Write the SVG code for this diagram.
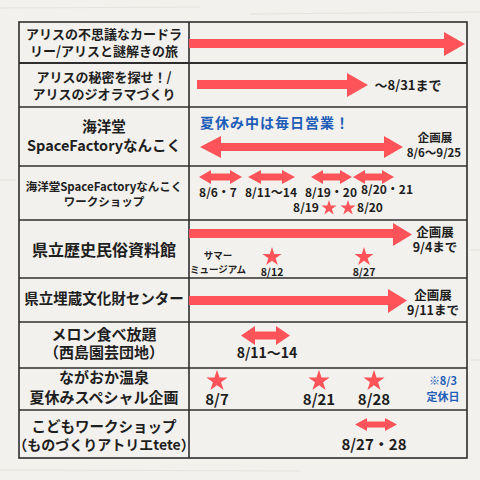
<svg xmlns="http://www.w3.org/2000/svg" xmlns:xlink="http://www.w3.org/1999/xlink" width="480" height="480" viewBox="0 0 480 480">
<style>
.t{font-family:"Noto Sans CJK JP","Noto Sans",sans-serif;font-weight:700;fill:#1e1e1e;text-anchor:middle}
.b{fill:#1e5db8}
.a{fill:#fe5459}
.g{stroke:#2e2e2e;stroke-width:1.6;fill:none}
</style>
<defs>
<path id="star" d="M0,-10 L2.245,-3.09 L9.511,-3.09 L3.633,1.18 L5.878,8.09 L0,3.82 L-5.878,8.09 L-3.633,1.18 L-9.511,-3.09 L-2.245,-3.09 Z" fill="#fe5459"/>
</defs>
<rect width="480" height="480" fill="#f3f1ed"/>
<g opacity="0.5" stroke="#dcd8d2" stroke-width="1">
<line x1="0" y1="8" x2="200" y2="7"/><line x1="250" y1="14" x2="480" y2="12"/>
<line x1="0" y1="470" x2="300" y2="471"/><line x1="0" y1="180" x2="16" y2="180"/>
<line x1="470" y1="250" x2="480" y2="250"/><line x1="470" y1="360" x2="480" y2="360"/>
</g>
<g id="grid" class="g">
<rect x="19" y="22" width="448" height="436"/>
<line x1="189" y1="22" x2="189" y2="458"/>
<line x1="19" y1="63" x2="467" y2="63" stroke-width="2.2"/>
<line x1="19" y1="107" x2="467" y2="107"/>
<line x1="19" y1="166" x2="467" y2="166"/>
<line x1="19" y1="220" x2="467" y2="220"/>
<line x1="19" y1="278" x2="467" y2="278"/>
<line x1="19" y1="322" x2="467" y2="322"/>
<line x1="19" y1="368" x2="467" y2="368"/>
<line x1="19" y1="410" x2="467" y2="410"/>
</g>
<g id="row1">
<text class="t" x="104" y="39" font-size="13">アリスの不思議なカードラ</text>
<text class="t" x="104" y="56" font-size="13">リー/アリスと謎解きの旅</text>
</g>
<g id="row2">
<text class="t" x="104" y="82" font-size="13">アリスの秘密を探せ！/</text>
<text class="t" x="104" y="99" font-size="13">アリスのジオラマづくり</text>
<text class="t" x="408" y="90" font-size="13">〜8/31まで</text>
</g>
<g id="row3">
<text class="t" x="104" y="132" font-size="14.5">海洋堂</text>
<text class="t" x="104" y="151" font-size="14.5">SpaceFactoryなんこく</text>
<text class="t b" x="275" y="128" font-size="14" letter-spacing="1">夏休み中は毎日営業！</text>
<text class="t" x="435" y="142" font-size="11.5">企画展</text>
<text class="t" x="434" y="157" font-size="11.5">8/6〜9/25</text>
</g>
<g id="row4">
<text class="t" x="104" y="191" font-size="11.5">海洋堂SpaceFactoryなんこく</text>
<text class="t" x="104" y="206" font-size="11.5">ワークショップ</text>
<text class="t" x="218" y="197" font-size="12">8/6・7</text>
<text class="t" x="271" y="197" font-size="12">8/11〜14</text>
<text class="t" x="331" y="197" font-size="12">8/19・20</text>
<text class="t" x="387" y="194" font-size="12">8/20・21</text>
<text class="t" x="306" y="212" font-size="12">8/19</text>
<text class="t" x="370" y="212" font-size="12">8/20</text>
<use xlink:href="#star" transform="translate(329,208) scale(0.8)"/>
<use xlink:href="#star" transform="translate(348,208) scale(0.8)"/>
</g>
<g id="row5">
<text class="t" x="104" y="256" font-size="16">県立歴史民俗資料館</text>
<text class="t" x="218" y="259" font-size="9.5">サマー</text>
<text class="t" x="218" y="273" font-size="9.5">ミュージアム</text>
<use xlink:href="#star" transform="translate(272,257)"/>
<use xlink:href="#star" transform="translate(364,257)"/>
<text class="t" x="272" y="276" font-size="10.5">8/12</text>
<text class="t" x="364" y="276" font-size="10.5">8/27</text>
<text class="t" x="435" y="237" font-size="12.5">企画展</text>
<text class="t" x="435" y="252" font-size="12.5">9/4まで</text>
</g>
<g id="row6">
<text class="t" x="104" y="304" font-size="14.5">県立埋蔵文化財センター</text>
<text class="t" x="433" y="300" font-size="12.5">企画展</text>
<text class="t" x="433" y="315" font-size="12.5">9/11まで</text>
</g>
<g id="row7">
<text class="t" x="104" y="340" font-size="15">メロン食べ放題</text>
<text class="t" x="104" y="358" font-size="15">（西島園芸団地）</text>
<text class="t" x="267" y="358" font-size="14">8/11〜14</text>
</g>
<g id="row8">
<text class="t" x="104" y="383" font-size="15">ながおか温泉</text>
<text class="t" x="104" y="403" font-size="15">夏休みスペシャル企画</text>
<use xlink:href="#star" transform="translate(217,381) scale(1.12)"/>
<use xlink:href="#star" transform="translate(319,381) scale(1.12)"/>
<use xlink:href="#star" transform="translate(374,381) scale(1.12)"/>
<text class="t" x="217" y="405" font-size="15">8/7</text>
<text class="t" x="319" y="405" font-size="15">8/21</text>
<text class="t" x="374" y="405" font-size="15">8/28</text>
<text class="t b" x="443" y="385" font-size="11">※8/3</text>
<text class="t b" x="443" y="401" font-size="11">定休日</text>
</g>
<g id="row9">
<text class="t" x="104" y="432" font-size="14.5">こどもワークショップ</text>
<text class="t" x="104" y="450" font-size="14">（ものづくりアトリエtete）</text>
<text class="t" x="374" y="450" font-size="15">8/27・28</text>
</g>
<g id="connectors" class="a">
<polygon points="189,39 444,39 444,32 465,44 444,56 444,48 189,48"/>
<polygon points="197,80 347,80 347,73 368,85 347,97 347,89 197,89"/>
<polygon points="200,147 221,136 221,143 384,143 384,136 403,147 384,158 384,151 221,151 221,158"/>
<polygon points="199,177 211,170 211,173.5 230,173.5 230,170 242,177 230,184 230,180.5 211,180.5 211,184"/>
<polygon points="248,177 261,170 261,173.5 282,173.5 282,170 295,177 282,184 282,180.5 261,180.5 261,184"/>
<polygon points="311,177 323,170 323,173.5 340,173.5 340,170 352,177 340,184 340,180.5 323,180.5 323,184"/>
<polygon points="353,177 365,170 365,173.5 382,173.5 382,170 394,177 382,184 382,180.5 365,180.5 365,184"/>
<polygon points="189,229 393,229 393,223 412,234.5 393,246 393,238 189,238"/>
<polygon points="189,296 388,296 388,289 407,300.5 388,313 388,305 189,305"/>
<polygon points="241,335.5 255,326 255,331.5 276,331.5 276,326 290,335.5 276,345 276,339.5 255,339.5 255,345"/>
<polygon points="355,424.5 367,418 367,421.5 385,421.5 385,418 397,424.5 385,431 385,427.5 367,427.5 367,431"/>
</g>
</svg>
